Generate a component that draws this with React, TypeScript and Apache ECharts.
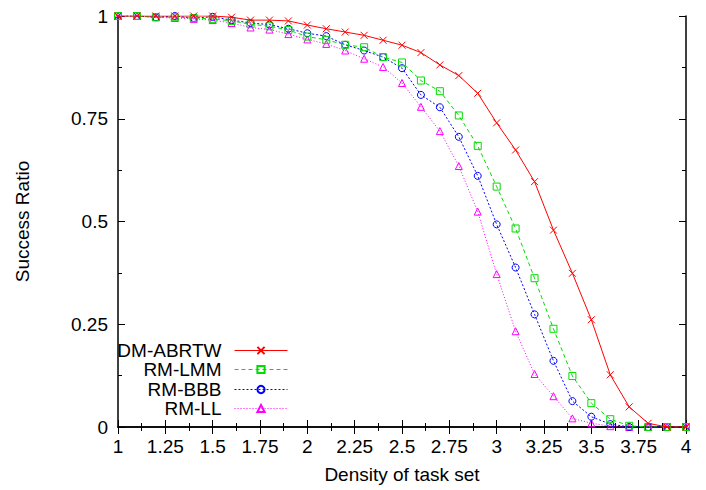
import React, { useEffect, useRef } from "react";
import * as echarts from "echarts";

const densities = [1.0, 1.1, 1.2, 1.3, 1.4, 1.5, 1.6, 1.7, 1.8, 1.9, 2.0, 2.1, 2.2, 2.3, 2.4, 2.5, 2.6, 2.7, 2.8, 2.9, 3.0, 3.1, 3.2, 3.3, 3.4, 3.5, 3.6, 3.7, 3.8, 3.9, 4.0];

const dmAbrtw = [1, 1, 1, 1, 1, 1, 0.997, 0.99, 0.99, 0.988, 0.978, 0.969, 0.961, 0.953, 0.941, 0.929, 0.911, 0.881, 0.855, 0.812, 0.74, 0.674, 0.597, 0.479, 0.374, 0.261, 0.127, 0.049, 0.009, 0, 0];
const rmLmm = [1, 1, 0.997, 0.997, 0.995, 0.993, 0.988, 0.98, 0.975, 0.966, 0.95, 0.942, 0.93, 0.924, 0.9, 0.887, 0.843, 0.817, 0.758, 0.684, 0.585, 0.483, 0.362, 0.239, 0.124, 0.058, 0.019, 0.003, 0, 0, 0];
const rmBbb = [1, 1, 0.997, 1, 0.995, 0.998, 0.99, 0.983, 0.979, 0.969, 0.958, 0.951, 0.93, 0.916, 0.9, 0.873, 0.808, 0.778, 0.706, 0.611, 0.493, 0.388, 0.274, 0.161, 0.063, 0.025, 0.007, 0, 0, 0, 0];
const rmLl = [1, 1, 0.997, 0.995, 0.993, 0.99, 0.983, 0.972, 0.967, 0.956, 0.943, 0.932, 0.916, 0.896, 0.876, 0.837, 0.779, 0.72, 0.635, 0.524, 0.372, 0.233, 0.129, 0.075, 0.021, 0.009, 0.002, 0, 0, 0, 0];

const seriesNames = ["DM-ABRTW", "RM-LMM", "RM-BBB", "RM-LL"];
const seriesValues = [dmAbrtw, rmLmm, rmBbb, rmLl];

const FONT = "Liberation Sans, Arial, sans-serif";

export default function App() {
  const ref = useRef<HTMLDivElement>(null);

  useEffect(() => {
    if (!ref.current) return;
    const chart = echarts.init(ref.current, null, { renderer: "svg" });

    const colors = ["#ff0000", "#00dd00", "#0000ff", "#ff00ff"];
    const lineTypes: any[] = ["solid", [4, 3], [2, 2], [1, 2]];
    const symbols = [
      "path://M0,0L10,10M10,0L0,10",
      "rect",
      "circle",
      "triangle",
    ];
    const symbolSizes = [7, 7, 7, 7];

    const series = seriesNames.map((name, k) => ({
      name,
      type: "line",
      xAxisIndex: 0,
      yAxisIndex: 0,
      data: densities.map((d, i) => [d, seriesValues[k][i]]),
      symbol: symbols[k],
      symbolSize: symbolSizes[k],
      showAllSymbol: true,
      z: 10 - k,
      lineStyle: { color: colors[k], width: 1, type: lineTypes[k] },
      itemStyle: {
        color: "none",
        borderColor: colors[k],
        borderWidth: 1,
      },
    }));

    const rowYs = [352, 371, 391, 410];
    const legends = seriesNames.map((name, k) => ({
      data: [name],
      orient: "vertical",
      align: "right",
      right: 418,
      top: rowYs[k] - 11,
      itemWidth: 53,
      itemHeight: 9,
      padding: 0,
      lineStyle: { width: 1 },
      textStyle: {
        fontFamily: FONT,
        fontSize: 19,
        color: "#000",
        padding: [0, 8, 0, 0],
      },
    }));

    const axisLine = { show: true, lineStyle: { color: "#000", width: 1.5 } };
    const tick = { show: true, inside: true, length: 7, lineStyle: { color: "#000", width: 1 } };
    const minor = { show: true, splitNumber: 2, length: 4, lineStyle: { color: "#000", width: 1 } };

    chart.setOption({
      animation: false,
      backgroundColor: "#fff",
      grid: { left: 118, right: 20, top: 16, bottom: 63, containLabel: false },
      legend: legends,
      xAxis: [
        {
          type: "value",
          min: 1,
          max: 4,
          interval: 0.25,
          position: "bottom",
          axisLine,
          axisTick: tick,
          minorTick: minor,
          splitLine: { show: false },
          axisLabel: { fontFamily: FONT, fontSize: 19, color: "#000", margin: 10 },
          name: "Density of task set",
          nameLocation: "middle",
          nameGap: 38,
          nameTextStyle: { fontFamily: FONT, fontSize: 19, color: "#000" },
        },
        {
          type: "value",
          min: 1,
          max: 4,
          interval: 0.25,
          position: "top",
          axisLine,
          axisTick: tick,
          minorTick: minor,
          splitLine: { show: false },
          axisLabel: { show: false },
        },
      ],
      yAxis: [
        {
          type: "value",
          min: 0,
          max: 1,
          interval: 0.25,
          position: "left",
          axisLine,
          axisTick: tick,
          minorTick: minor,
          splitLine: { show: false },
          axisLabel: { fontFamily: FONT, fontSize: 19, color: "#000", margin: 10 },
          name: "Success Ratio",
          nameLocation: "middle",
          nameGap: 86,
          nameTextStyle: { fontFamily: FONT, fontSize: 19, color: "#000" },
        },
        {
          type: "value",
          min: 0,
          max: 1,
          interval: 0.25,
          position: "right",
          axisLine,
          axisTick: tick,
          minorTick: minor,
          splitLine: { show: false },
          axisLabel: { show: false },
        },
      ],
      series,
    });

    return () => chart.dispose();
  }, []);

  return <div ref={ref} style={{ width: 706, height: 490, position: "absolute", left: 0, top: 0 }} />;
}
